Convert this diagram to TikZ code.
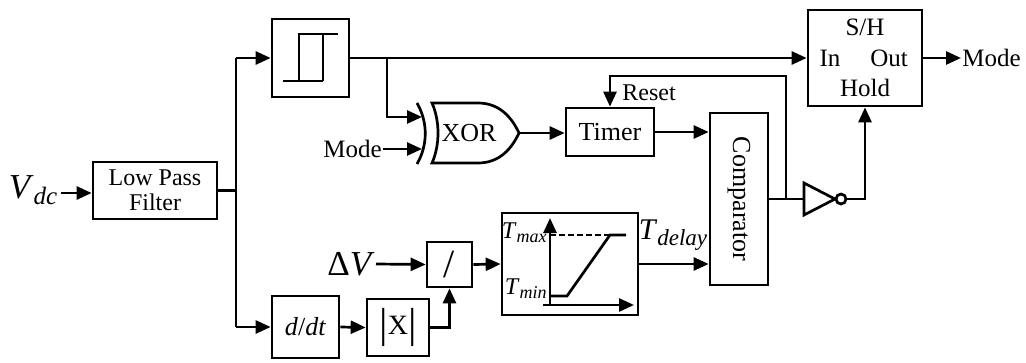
\documentclass[tikz,border=0pt]{standalone}
\usepackage{fontspec}
\setmainfont{Liberation Serif}
\usetikzlibrary{arrows.meta}
\newcommand{\fs}[1]{\fontsize{#1}{#1}\selectfont}
\begin{document}
\begin{tikzpicture}[x=1pt,y=-1pt,
  every path/.style={line width=2.7pt},
  blk/.style={draw,line width=2.7pt,rectangle,inner sep=0pt,align=center,font=\fs{25}},
  arr/.style={-{Triangle[length=15pt,width=13pt]}},
  lbl/.style={inner sep=0pt,font=\fs{25}}]
\useasboundingbox (0,0) rectangle (1026,362);
% nodes
\node[lbl] (vdc) at (33,190) {{\fs{35}\textit{V}}\raisebox{-6pt}{\fs{25}\textit{dc}}};
\node[blk,minimum width=124pt,minimum height=57pt,font=\fontsize{24}{25}\selectfont] (lpf) at (155,190.5) {Low Pass\\Filter};
\node[blk,minimum width=77pt,minimum height=78pt] (hys) at (310.5,58) {};
\node[blk,minimum width=88pt,minimum height=48pt,font=\fs{26}] (timer) at (610,132) {Timer};
\node[blk,minimum width=58pt,minimum height=172pt] (comp) at (739,199) {};
\node[lbl,rotate=-90,font=\fs{26}] (comptxt) at (739,199) {Comparator};
\node[blk,minimum width=114pt,minimum height=96pt] (sh) at (865,58) {};
\node[lbl] (shtitle) at (865,27) {S/H};
\node[lbl] (shin) at (830,58) {In};
\node[lbl] (shout) at (889,58) {Out};
\node[lbl] (shhold) at (865,88) {Hold};
\node[lbl,anchor=west] (modeout) at (961,58) {Mode};
\node[lbl,anchor=east] (modein) at (383,149) {Mode};
\node[lbl,anchor=west,font=\fs{24}] (reset) at (621,93) {Reset};
\node[lbl,font=\fs{26}] (xortxt) at (469,133) {XOR};
\node[blk,minimum width=67pt,minimum height=62pt,font=\fs{26}] (ddt) at (305.5,327) {\textit{d}/\textit{dt}};
\node[blk,minimum width=62pt,minimum height=57pt,font=\fs{28}] (abs) at (398,327.5) {{\fs{42}\raisebox{-3pt}{|}}X{\fs{42}\raisebox{-3pt}{|}}};
\node[blk,minimum width=45pt,minimum height=45pt,font=\fs{40}] (div) at (449.5,264.5) {/};
\node[lbl,anchor=east,font=\fs{35}] (dv) at (376,264) {Δ\textit{V}};
\node[blk,minimum width=136pt,minimum height=102pt] (ramp) at (570,264) {};
\node[lbl,anchor=east] (tmax) at (548,233) {{\fs{24}\textit{T}}\raisebox{-4pt}{\fs{18}\textit{max}}};
\node[lbl,anchor=east] (tmin) at (548,289) {{\fs{24}\textit{T}}\raisebox{-4pt}{\fs{18}\textit{min}}};
\node[lbl] (tdelay) at (673,235) {{\fs{30}\textit{T}}\raisebox{-6pt}{\fs{23}\textit{delay}}};
% coordinates
\coordinate (j1) at (236,190.5);
\coordinate (jtop) at (236,58);
\coordinate (jbot) at (236,327);
\coordinate (jx) at (387,58);
\coordinate (xin1) at (422,117);
\coordinate (xin2) at (422,149);
\coordinate (xout) at (519,133);
\coordinate (nin) at (804,199);
\coordinate (nout) at (846,199);
\coordinate (jr) at (786,199);
% hysteresis symbol
\draw (283,81) -- (323,81) (299,81) -- (299,34) -- (338,34) (323,34) -- (323,81);
% XOR gate
\draw (417,103) .. controls (428,122) and (428,145) .. (417,164);
\draw (432,103) -- (478,103) .. controls (500,103) and (512,118) .. (xout)
  .. controls (512,148) and (500,163) .. (478,163) -- (432,163)
  .. controls (440,145) and (440,121) .. (432,103) -- cycle;
% NOT gate
\draw (nin) -- ++(0,-16) -- (835,199) -- (804,215) -- cycle;
\draw (841,199) circle (5pt);
% ramp graph
\draw[arr] (550,306) -- (550,218);
\draw[arr] (543,305) -- (634,305);
\draw[dashed,dash pattern=on 6pt off 3pt] (550,235) -- (610,235);
\draw (550,296) -- (567,296) -- (610,235) -- (626,235);
% connectors
\draw[arr] (vdc.east) ++(2,3) coordinate (vdce) -- (lpf.west |- vdce);
\draw (lpf.east) -- (j1);
\draw (jtop) -- (jbot);
\draw[arr] (jtop) -- (hys.west);
\draw[arr] (hys.east) -- (sh.west);
\draw[arr] (jx) |- (xin1);
\draw[arr] (modein.east) -- (xin2);
\draw[arr] (xout) -- (timer.west |- xout);
\draw[arr] (timer.east) -- (comp.west |- timer.east);
\draw (comp.east |- jr) -- (nin);
\draw[arr] (jr) -- (786,76) -- (610,76) -- (timer.north);
\draw[arr] (nout) -- (865,199) -- (sh.south);
\draw[arr] (sh.east) -- (modeout.west);
\draw[arr] (jbot) -- (ddt.west);
\draw[arr] (ddt.east) -- (abs.west);
\draw[arr] (abs.east) -| (div.south);
\draw[arr] (dv.east) -- (div.west);
\draw[arr] (div.east) -- (ramp.west);
\draw[arr] (ramp.east) -- (comp.west |- ramp.east);
\end{tikzpicture}
\end{document}
